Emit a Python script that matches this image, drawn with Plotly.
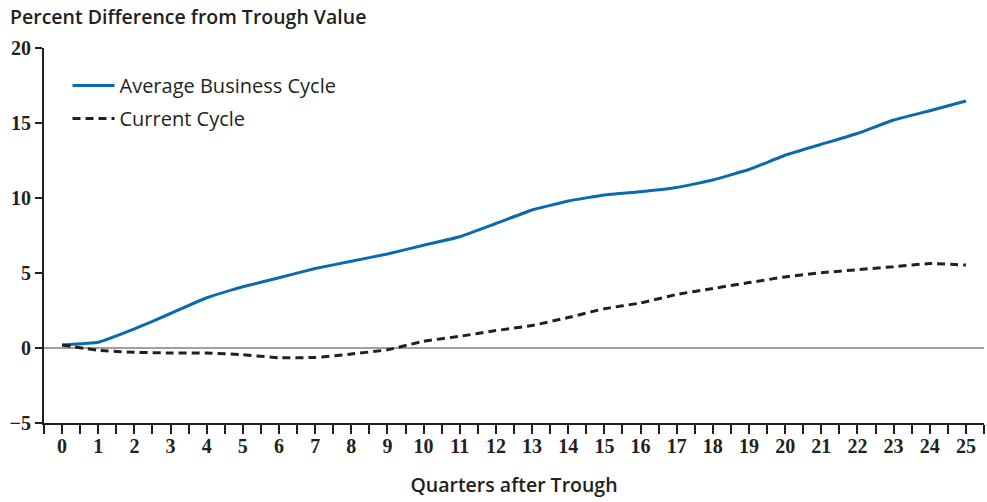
import plotly.graph_objects as go

# Quarters after trough
quarters = list(range(26))

# Percent difference from trough value
average_cycle = [0.2, 0.38, 1.27, 2.3, 3.35, 4.08, 4.68, 5.3, 5.78, 6.27, 6.85, 7.42,
                 8.3, 9.2, 9.8, 10.2, 10.42, 10.7, 11.2, 11.9, 12.85, 13.58, 14.3,
                 15.2, 15.82, 16.47]
current_cycle = [0.2, -0.15, -0.29, -0.33, -0.33, -0.45, -0.65, -0.63, -0.4, -0.12,
                 0.45, 0.78, 1.16, 1.5, 2.03, 2.62, 3.0, 3.57, 3.97, 4.36, 4.74, 5.02,
                 5.22, 5.42, 5.63, 5.53]

# x ticks every half quarter, labels only on whole quarters
tick_vals = [i / 2 for i in range(-1, 52)]
tick_text = [str(int(v)) if v == int(v) and v >= 0 else "" for v in tick_vals]

sans = "Open Sans"
serif = "Liberation Serif"
ink = "#231f20"

fig = go.Figure()

fig.add_trace(go.Scatter(
    x=quarters, y=average_cycle,
    mode="lines",
    name="Average Business Cycle",
    legendgroup="avg",
    line=dict(color="#0b6aae", width=3, shape="spline", smoothing=0.3),
))

fig.add_trace(go.Scatter(
    x=quarters, y=current_cycle,
    mode="lines",
    name="Current Cycle",
    legendgroup="cur",
    line=dict(color=ink, width=3, dash="8px,5px", shape="spline", smoothing=0.3),
))

fig.update_layout(
    width=987, height=502,
    margin=dict(l=44, r=3, t=48, b=79),
    plot_bgcolor="white",
    paper_bgcolor="white",
    title=dict(
        text="Percent Difference from Trough Value",
        x=0, xanchor="left", xref="container",
        y=0.966, yanchor="middle", yref="container",
        pad=dict(l=10, t=0, b=0, r=0),
        automargin=False,
        font=dict(family=sans, size=19.5, color=ink, weight=600),
    ),
    legend=dict(
        x=0.025, y=0.952, xanchor="left", yanchor="top",
        bgcolor="rgba(0,0,0,0)",
        tracegroupgap=4,
        itemwidth=42,
        font=dict(family=sans, size=20, color=ink, weight=500),
    ),
    xaxis=dict(
        range=[-0.5, 25.5],
        automargin=False,
        tickmode="array", tickvals=tick_vals, ticktext=tick_text,
        ticks="outside", ticklen=9, tickwidth=2, tickcolor=ink,
        ticklabelstandoff=-5,
        showline=True, linecolor=ink, linewidth=2,
        showgrid=False, zeroline=False,
        tickfont=dict(family=serif, size=20, color=ink, weight="bold"),
        title=dict(
            text="Quarters after Trough",
            font=dict(family=sans, size=19.5, color=ink, weight=600),
            standoff=22,
        ),
    ),
    yaxis=dict(
        range=[-5, 20],
        automargin=False,
        tickvals=[-5, 0, 5, 10, 15, 20],
        ticks="outside", ticklen=7, tickwidth=2, tickcolor=ink,
        showline=True, linecolor=ink, linewidth=2,
        showgrid=False,
        zeroline=True, zerolinecolor="#a0a0a0", zerolinewidth=1.5,
        tickfont=dict(family=serif, size=20, color=ink, weight="bold"),
    ),
)

# drop the page's default body margin so the figure sits at the window corner
fig.write_html("out.html", config={"displayModeBar": False},
               post_script="document.body.style.margin='0px';")
